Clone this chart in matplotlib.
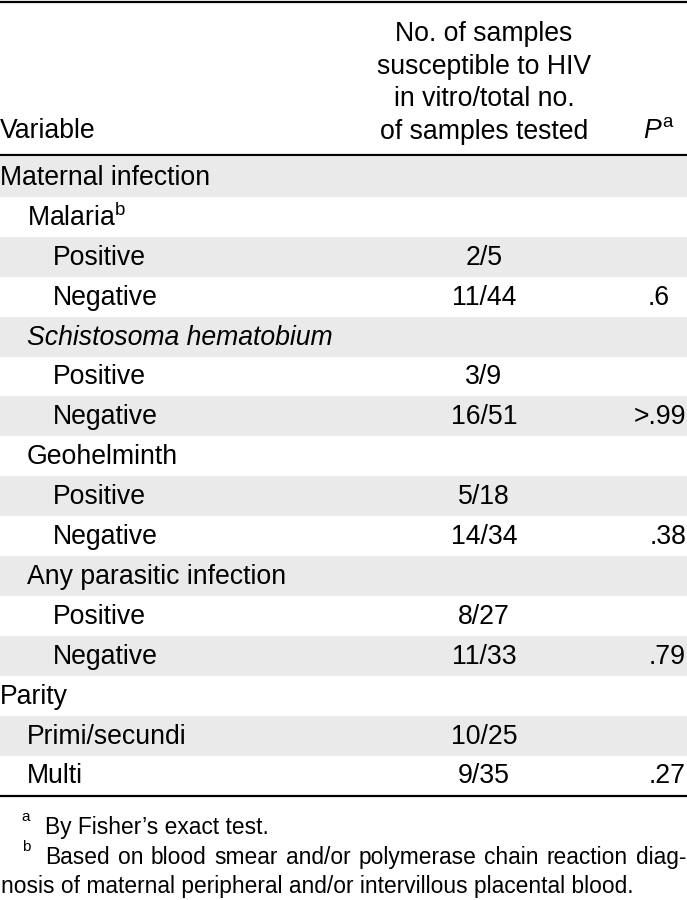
import matplotlib
matplotlib.use("Agg")
import matplotlib.pyplot as plt

plt.rcParams['font.family'] = ['Liberation Sans', 'DejaVu Sans']
plt.rcParams['mathtext.fontset'] = 'custom'
plt.rcParams['mathtext.rm'] = 'Liberation Sans'
plt.rcParams['mathtext.it'] = 'Liberation Sans:italic'

# table content
header_col2 = ["No. of samples", "susceptible to HIV", "in vitro/total no.", "of samples tested"]
labels = ["Maternal infection", "Malaria$^{\\mathrm{b}}$", "Positive", "Negative",
          "Schistosoma hematobium", "Positive", "Negative",
          "Geohelminth", "Positive", "Negative",
          "Any parasitic infection", "Positive", "Negative",
          "Parity", "Primi/secundi", "Multi"]
levels = [0, 1, 2, 2, 1, 2, 2, 1, 2, 2, 1, 2, 2, 0, 1, 1]
italic_rows = [4]
counts = ["", "", "2/5", "11/44", "", "3/9", "16/51", "", "5/18", "14/34",
          "", "8/27", "11/33", "", "10/25", "9/35"]
pvals = ["", "", "", ".6", "", "", ">.99", "", "", ".38", "", "", ".79", "", "", ".27"]
footnotes = ["By Fisher\u2019s exact test.",
             "Based on blood smear and/or polymerase chain reaction diag-",
             "nosis of maternal peripheral and/or intervillous placental blood."]

W, H = 687, 900
fig = plt.figure(figsize=(W / 100, H / 100), dpi=100)
ax = fig.add_axes([0, 0, 1, 1])
ax.set_xlim(0, W)
ax.set_ylim(H, 0)
ax.axis('off')

fs = 19.2
shade = '#eaeaea'
row_top = 157
row_h = 39.9
x_col2 = 484
x_p = 686
indent = [0, 27, 53]

# rules
ax.axhline(2, color='black', lw=1.6)
ax.axhline(155, color='black', lw=1.6)
n = len(labels)
ax.axhline(row_top + n * row_h + 1, color='black', lw=1.6)

# header
for i, line in enumerate(header_col2):
    ax.text(x_col2, 34 + i * 32.7, line, ha='center', va='center', fontsize=fs)
ax.text(indent[0], 131, "Variable", ha='left', va='center', fontsize=fs)
ax.text(675, 131, "$\\mathit{P}^{\\mathrm{a}}$", ha='right', va='center', fontsize=fs)

# body
for i in range(n):
    y0 = row_top + i * row_h
    yc = y0 + row_h / 2 + 1
    if i % 2 == 0:
        ax.axhspan(y0, y0 + row_h, color=shade, lw=0, zorder=0)
    ax.text(indent[levels[i]], yc, labels[i], ha='left', va='center', fontsize=fs,
            style='italic' if i in italic_rows else 'normal')
    if counts[i]:
        ax.text(x_col2, yc, counts[i], ha='center', va='center', fontsize=fs)
    if pvals[i]:
        # the single-digit value sits a little left of the others
        xr = x_p - 16 if len(pvals[i]) == 2 else x_p
        ax.text(xr, yc, pvals[i], ha='right', va='center', fontsize=fs)

# footnotes
fs2 = 16.4
ax.text(26, 817, "a", ha='center', va='center', fontsize=11)
ax.text(45, 834, footnotes[0], ha='left', va='baseline', fontsize=fs2)
ax.text(26, 847, "b", ha='center', va='center', fontsize=11)

# justified second footnote line
fig.canvas.draw()
r = fig.canvas.get_renderer()
words = footnotes[1].split()
tx = [ax.text(0, 864, w, ha='left', va='baseline', fontsize=fs2) for w in words]
widths = [t.get_window_extent(r).width for t in tx]
x_start, x_end = 45, 686
gap = (x_end - x_start - sum(widths)) / (len(words) - 1)
x = x_start
for t, w in zip(tx, widths):
    t.set_x(x)
    x += w + gap
ax.text(indent[0] + 1, 893, footnotes[2], ha='left', va='baseline', fontsize=fs2)

fig.savefig("out.png", dpi=100)
